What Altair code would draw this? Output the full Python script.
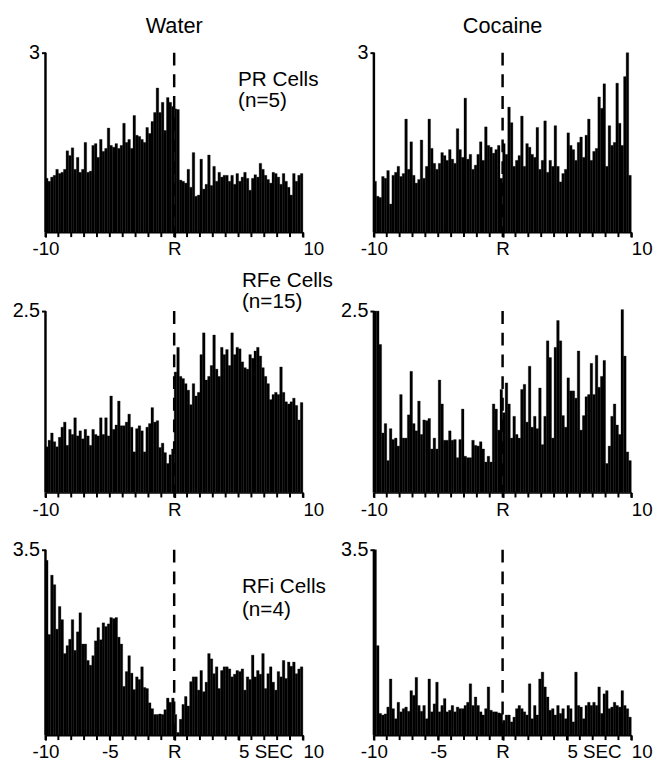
import altair as alt
import pandas as pd

FONT = "Liberation Sans"
NB = "\u00a0"  # non-breaking space used to nudge tick labels

# bin starts (s) relative to response R, 0.2 s bins
bin_starts = [round(-10 + 0.2 * i, 1) for i in range(100)]
bin_width = 0.2

# --- spike rates ---
water_pr = [
    0.9, 0.85, 0.92, 0.95, 1.05, 0.98, 1.0, 1.05, 1.36, 1.28,
    1.41, 1.05, 1.25, 1.0, 1.05, 1.5, 1.0, 1.02, 1.45, 1.48,
    1.25, 1.55, 1.35, 1.4, 1.74, 1.45, 1.42, 1.48, 1.4, 1.45,
    1.82, 1.5, 1.55, 1.4, 1.95, 1.62, 1.6, 1.55, 1.5, 1.75,
    1.65, 1.85, 2.0, 2.41, 2.0, 2.17, 1.7, 2.25, 2.17, 2.1,
    2.06, 2.05, 0.87, 0.85, 0.82, 1.05, 0.75, 1.33, 0.6, 0.62,
    1.22, 0.72, 0.8, 1.29, 0.78, 1.1, 0.85, 1.0, 0.92, 0.95,
    0.95, 0.85, 0.95, 0.8, 0.98, 0.85, 0.92, 1.0, 0.9, 0.7,
    0.9, 0.96, 0.92, 1.15, 1.05, 0.95, 0.88, 0.82, 1.0, 0.98,
    0.92, 0.8, 0.98, 0.85, 0.75, 0.62, 0.98, 0.85, 0.95, 0.98,
]
cocaine_pr = [
    0.85, 0.6, 0.58, 0.93, 0.9, 1.03, 0.47, 0.95, 1.0, 1.1,
    0.93, 0.98, 1.89, 1.05, 1.51, 0.95, 0.82, 0.88, 1.54, 0.9,
    1.1, 1.89, 1.4, 1.15, 1.05, 1.15, 1.33, 1.28, 1.2, 1.38,
    1.22, 1.15, 1.73, 1.38, 1.25, 2.24, 1.22, 1.3, 1.05, 1.12,
    1.3, 1.51, 1.2, 1.76, 1.45, 1.42, 1.32, 1.38, 1.45, 0.9,
    1.48, 1.3, 2.09, 1.83, 1.1, 1.2, 1.28, 1.94, 1.1, 1.48,
    1.42, 1.3, 1.25, 1.75, 1.05, 1.2, 1.86, 1.0, 1.2, 1.1,
    1.78, 1.1, 0.84, 0.98, 1.05, 1.66, 1.45, 1.38, 1.2, 1.5,
    1.59, 1.25, 1.62, 1.89, 1.2, 1.35, 1.4, 2.26, 2.07, 2.48,
    1.1, 1.78, 1.45, 1.5, 2.49, 1.82, 1.45, 2.6, 3.0, 0.95,
]
water_rfe = [
    0.63, 0.72, 0.82, 0.7, 0.63, 0.76, 0.9, 0.97, 0.65, 0.87,
    0.8, 1.03, 0.78, 0.85, 0.74, 0.87, 0.78, 0.65, 0.87, 0.8,
    0.78, 1.03, 0.8, 1.03, 0.78, 1.33, 0.87, 0.93, 1.26, 0.92,
    0.92, 0.97, 1.08, 0.9, 0.56, 0.88, 0.92, 0.85, 0.56, 0.9,
    0.95, 1.17, 0.97, 0.99, 0.62, 0.68, 0.55, 0.4, 0.52, 0.6,
    1.66, 2.0, 1.6, 1.57, 1.5, 1.41, 1.21, 1.5, 1.33, 1.38,
    1.9, 2.2, 1.55, 1.6, 1.75, 2.17, 1.7, 1.6, 2.0, 1.9,
    1.97, 1.75, 2.2, 1.9, 2.0, 1.98, 1.8, 1.72, 1.7, 1.9,
    1.85, 1.95, 2.0, 1.88, 1.72, 1.6, 1.5, 1.28, 1.35, 1.38,
    1.35, 1.73, 1.38, 1.25, 1.22, 1.25, 1.3, 1.2, 1.0, 1.24,
]
cocaine_rfe = [
    2.5, 2.5, 2.04, 0.82, 0.95, 0.44, 0.88, 0.73, 0.75, 0.64,
    1.35, 0.75, 0.75, 1.07, 1.67, 0.95, 0.85, 1.26, 0.8, 1.0,
    0.99, 1.02, 0.6, 0.75, 0.6, 1.55, 1.22, 0.72, 0.72, 0.85,
    0.72, 0.73, 0.48, 0.73, 1.15, 0.5, 0.48, 0.48, 0.72, 0.65,
    0.64, 0.7, 0.6, 0.42, 0.5, 0.42, 1.22, 1.15, 0.86, 1.42,
    1.1, 1.51, 1.22, 0.75, 1.05, 0.8, 0.75, 1.42, 1.49, 0.97,
    1.74, 0.9, 1.05, 0.88, 1.44, 0.66, 1.05, 2.09, 1.86, 0.75,
    2.0, 2.37, 2.09, 1.06, 0.9, 1.58, 1.4, 1.4, 1.3, 1.95,
    0.86, 1.06, 1.32, 1.35, 1.78, 1.35, 1.89, 1.45, 1.6, 1.82,
    0.4, 0.64, 1.05, 1.22, 0.93, 0.8, 2.52, 1.88, 0.56, 0.44,
]
water_rfi = [
    3.3, 1.9, 3.02, 2.84, 2.0, 2.43, 2.18, 1.54, 1.69, 1.81,
    2.18, 1.6, 1.95, 2.31, 1.72, 1.72, 1.41, 1.32, 1.5, 1.78,
    2.03, 1.8, 2.12, 2.05, 2.1, 2.22, 2.2, 2.22, 1.85, 1.72,
    0.92, 1.2, 1.5, 1.17, 0.86, 1.1, 1.05, 1.29, 0.9, 0.88,
    0.61, 0.5, 0.39, 0.39, 0.4, 0.39, 0.48, 0.7, 0.62, 0.7,
    0.39, 0.05, 0.3, 0.58, 0.73, 0.55, 1.01, 1.1, 1.1, 0.85,
    1.22, 0.82, 1.0, 1.54, 1.44, 1.16, 1.29, 0.88, 1.22, 1.29,
    1.29, 1.25, 1.1, 1.15, 1.22, 1.2, 1.25, 0.85, 1.1, 1.05,
    1.51, 1.1, 1.22, 1.15, 1.54, 0.88, 1.16, 1.29, 1.0, 0.85,
    1.2, 1.1, 1.41, 1.07, 1.38, 1.3, 1.38, 1.16, 1.25, 1.29,
]
cocaine_rfi = [
    3.5, 1.69, 0.41, 0.38, 0.4, 0.53, 1.06, 0.5, 0.31, 0.62,
    0.44, 0.5, 0.53, 0.45, 0.84, 0.75, 1.09, 0.56, 0.45, 0.56,
    0.31, 1.06, 0.44, 0.59, 1.0, 0.44, 0.56, 0.69, 0.44, 0.47,
    0.56, 0.44, 0.53, 0.5, 0.5, 0.56, 0.62, 0.97, 0.56, 0.72,
    0.56, 0.44, 0.38, 0.5, 0.91, 0.47, 0.44, 0.44, 0.42, 0.41,
    0.28, 0.38, 0.38, 0.25, 0.34, 0.5, 0.56, 0.5, 0.44, 0.38,
    0.97, 0.31, 0.56, 0.38, 1.06, 1.19, 0.91, 0.72, 0.47, 0.5,
    0.38, 0.56, 0.41, 0.5, 0.31, 0.56, 0.5, 0.25, 1.19, 0.56,
    0.53, 0.31, 0.56, 0.62, 0.56, 0.62, 0.56, 0.91, 0.41, 0.78,
    0.84, 0.5, 0.53, 0.62, 0.56, 0.53, 0.84, 0.56, 0.5, 0.34,
]

column_titles = ["Water", "Cocaine"]
row_max = [3, 2.5, 3.5]            # top tick of each row's y axis
group_labels = [["PR Cells", "(n=5)"], ["RFe Cells", "(n=15)"], ["RFi Cells", "(n=4)"]]
minor_ticks = list(range(-10, 11))
label_ticks_top = [-10, 0, 10]
label_ticks_bottom = [-10, -5, 0, 5, 10]

label_pos = [  # (x, y) in data units for each line of the group label
    [(4.96, 2.44), (4.96, 2.10)],
    [(5.26, 2.83), (5.26, 2.54)],
    [(5.26, 2.68), (5.26, 2.25)],
]

PANEL_W = 261
row_heights = [182, 206, 188]
# row 2 plot area extends a little above its top tick (2.5)
row_domain_top = [3, 2.5 * 206 / 184, 3.5]
XTICK_FS = 19
YTICK_FS = 20
TEXT_FS = 21


def panel(values, ymax, dtop, height, title=None, label=None, lpos=None, bottom=False):
    df = pd.DataFrame({
        "start": bin_starts,
        "end": [round(s + bin_width, 2) for s in bin_starts],
        "rate": values,
    })
    if bottom:
        lexpr = ("datum.value == 0 ? 'R' : datum.value == 5 ? '5 SEC' : "
                 f"datum.value == -10 ? '{NB}{NB}-10' : "
                 f"datum.value == -5 ? '{NB}-5' : '10'")
        ticks = label_ticks_bottom
    else:
        lexpr = f"datum.value == 0 ? 'R' : datum.value == -10 ? '{NB}{NB}-10' : '10'"
        ticks = label_ticks_top
    lalign = {"condition": {"test": "datum.value >= 5", "value": "left"},
              "value": "center"}
    xaxis = alt.Axis(values=ticks, labelExpr=lexpr, labelAlign=lalign,
                     labelOverlap=False, labelFlush=False, grid=False,
                     tickSize=5, tickWidth=2, domainWidth=1.5, labelPadding=3,
                     labelFont=FONT, labelFontSize=XTICK_FS, labelColor="black",
                     domainColor="black", tickColor="black", title=None)
    yaxis = alt.Axis(values=[ymax], format="~g", grid=False, tickSize=4,
                     tickWidth=2, domain=False, labelPadding=2,
                     labelFont=FONT, labelFontSize=YTICK_FS, labelColor="black",
                     tickColor="black", title=None)
    xs = alt.Scale(domain=[-10, 10], nice=False, zero=False)
    ys = alt.Scale(domain=[0, dtop], nice=False, zero=True)
    bars = alt.Chart(df).mark_rect(color="black", stroke="black",
                                   strokeWidth=0.3).encode(
        x=alt.X("start:Q", scale=xs, axis=xaxis),
        x2="end:Q",
        y=alt.Y("rate:Q", scale=ys, axis=yaxis),
        y2=alt.datum(0),
    )
    mark_df = pd.DataFrame({"t": [0], "left": [-10]})
    rule = alt.Chart(mark_df).mark_rule(
        color="black", strokeWidth=2.5, strokeDash=[13, 9]).encode(
        x=alt.X("t:Q", scale=xs),
        y=alt.datum(ymax), y2=alt.datum(0),
    )
    yline = alt.Chart(mark_df).mark_rule(color="black", strokeWidth=2.5).encode(
        x=alt.X("left:Q", scale=xs),
        y=alt.datum(ymax), y2=alt.datum(0),
    )
    # one small tick per second below the baseline
    tick_marks = alt.Chart(pd.DataFrame({"sec": minor_ticks})).mark_rule(
        color="black", strokeWidth=2).encode(
        x=alt.X("sec:Q", scale=xs),
        y=alt.value(height), y2=alt.value(height + 5),
    )
    layers = [bars, rule, yline, tick_marks]
    if label is not None:
        tdf = pd.DataFrame({"txt": label,
                            "tx": [p[0] for p in lpos],
                            "ty": [p[1] for p in lpos]})
        text = alt.Chart(tdf).mark_text(
            align="left", baseline="alphabetic", fontSize=TEXT_FS, font=FONT,
            color="black").encode(
            x=alt.X("tx:Q", scale=xs), y=alt.Y("ty:Q", scale=ys),
            text="txt:N")
        layers.append(text)
    ch = alt.layer(*layers).properties(width=PANEL_W, height=height)
    if title is not None:
        ch = ch.properties(title=alt.TitleParams(
            title, fontSize=22, font=FONT, fontWeight="normal", offset=5,
            anchor="middle", color="black"))
    return ch


data_rows = [[water_pr, cocaine_pr], [water_rfe, cocaine_rfe], [water_rfi, cocaine_rfi]]

panels = []
for r in range(3):
    for c in range(2):
        panels.append(panel(
            data_rows[r][c], row_max[r], row_domain_top[r], row_heights[r],
            title=column_titles[c] if r == 0 else None,
            label=group_labels[r] if c == 0 else None,
            lpos=label_pos[r], bottom=(r == 2)))

chart = alt.concat(*panels, columns=2, bounds="flush",
                   spacing={"row": 58, "column": 72}).resolve_scale(
    x="independent", y="independent"
).properties(
    padding={"left": 4, "top": 2, "right": 0, "bottom": 0}
).configure(background="white").configure_view(stroke=None)

chart.save("out.html", embed_options={"renderer": "svg", "actions": False})
